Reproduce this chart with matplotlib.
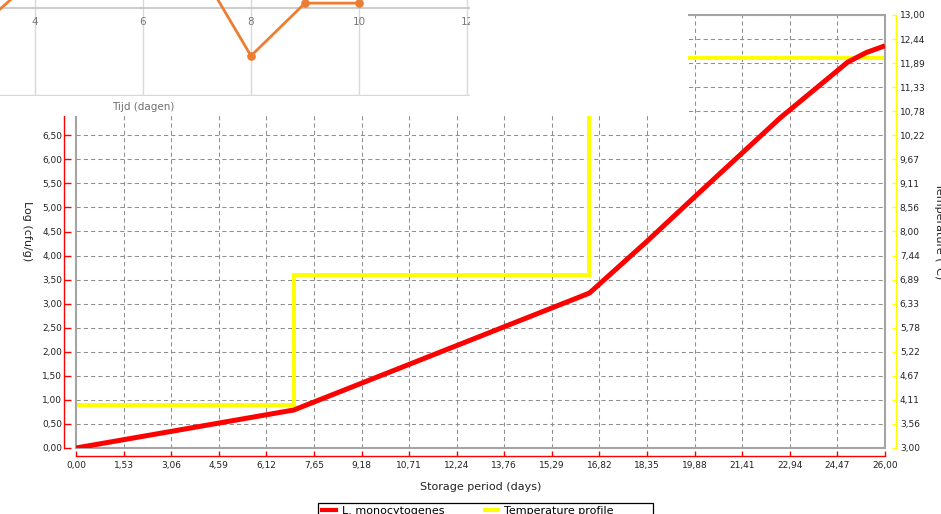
import numpy as np
import matplotlib
matplotlib.use("Agg")
import matplotlib.pyplot as plt
from matplotlib.patches import Rectangle
from matplotlib.lines import Line2D
import matplotlib.transforms as mtransforms

plt.rcParams['font.family'] = ['DejaVu Sans']

# ---------------- data ----------------
days = [0, 7, 16.5, 18.34, 19.95, 22.63, 23.92, 24.8, 25.4, 26]
log_counts = [0, 0.79, 3.22, 4.29, 5.26, 6.86, 7.55, 8.02, 8.22, 8.36]

temp_days = [0, 7, 16.5, 26]
temp_c = [4, 7, 12, 12]

x_tick_labels = ["0,00", "1,53", "3,06", "4,59", "6,12", "7,65", "9,18", "10,71", "12,24",
                 "13,76", "15,29", "16,82", "18,35", "19,88", "21,41", "22,94", "24,47", "26,00"]
left_tick_labels = ["0,00", "0,50", "1,00", "1,50", "2,00", "2,50", "3,00", "3,50", "4,00",
                    "4,50", "5,00", "5,50", "6,00", "6,50", "7,00", "7,50", "8,00", "8,50", "9,00"]
right_tick_labels = ["3,00", "3,56", "4,11", "4,67", "5,22", "5,78", "6,33", "6,89", "7,44", "8,00",
                     "8,56", "9,11", "9,67", "10,22", "10,78", "11,33", "11,89", "12,44", "13,00"]

# overlaid fragment of another chart (Excel screenshot)
excel_days = [3, 4, 7, 8, 9, 10]
excel_values = [-0.41, 0.68, 1.0, -1.1, 0.11, 0.11]
excel_ticks = [4, 6, 8, 10, 12]

W, H = 941, 514
fig = plt.figure(figsize=(W / 100, H / 100), dpi=100)
fig.patch.set_facecolor('white')

def px(x0, y0, x1, y1):
    return [x0 / W, 1 - y1 / H, (x1 - x0) / W, (y1 - y0) / H]

ax = fig.add_axes(px(76, 15, 885, 448))
ax2 = ax.twinx()
ax.set_zorder(2)
ax.patch.set_visible(False)
ax2.set_zorder(1)
ax2.patch.set_visible(True)
ax2.patch.set_facecolor('white')

ax.set_xlim(0, 26)
ax.set_ylim(0, 9)
ax2.set_ylim(3, 13)

xt = np.linspace(0, 26, len(x_tick_labels))
yl = np.linspace(0, 9, len(left_tick_labels))
yr = np.linspace(3, 13, len(right_tick_labels))
ax.set_xticks(xt)
ax.set_xticklabels(x_tick_labels)
ax.set_yticks(yl)
ax.set_yticklabels(left_tick_labels)
ax2.set_yticks(yr)
ax2.set_yticklabels(right_tick_labels)

# grid on the lower axes
ax2.xaxis.set_visible(True)
ax2.set_xticks(xt)
ax2.tick_params(axis='x', which='both', bottom=False, top=False, labelbottom=False, labeltop=False)
ax2.grid(True, color='#8f8f8f', linestyle=(0, (4, 3)), linewidth=0.75)
ax.grid(False)

# spines
for s in ['top', 'right']:
    ax.spines[s].set_visible(False)
for s in ['top', 'left', 'bottom']:
    ax2.spines[s].set_visible(False)
ax.spines['left'].set_position(('outward', 8.6))
ax.spines['left'].set_color('red')
ax.spines['bottom'].set_position(('outward', 6.0))
ax.spines['bottom'].set_color('red')
ax2.spines['right'].set_position(('outward', 7.9))
ax2.spines['right'].set_color('#ffff00')
for sp in [ax.spines['left'], ax.spines['bottom'], ax2.spines['right']]:
    sp.set_linewidth(1.0)

ax.tick_params(axis='y', direction='in', length=5, width=1, color='red', labelsize=6.5, pad=1.5, labelcolor='#222222')
ax.tick_params(axis='x', direction='in', length=3.5, width=1, color='red', labelsize=6.5, pad=3.5, labelcolor='#222222')
ax2.tick_params(axis='y', direction='in', length=3, width=1, color='#ffff00', labelsize=6.5, pad=2.8, labelcolor='#222222')

# frame of the plot area
ax2.add_patch(Rectangle((0, 0), 1, 1, transform=ax2.transAxes, fill=False,
                        edgecolor='#a4a4a4', linewidth=1.5, zorder=2.5, clip_on=False))

# series
ax2.plot(temp_days, temp_c, drawstyle='steps-post', color='#ffff00', linewidth=2.9,
         solid_joinstyle='miter', zorder=2)
ax.plot(days, log_counts, color='#ff0000', linewidth=3.6, solid_capstyle='butt',
        solid_joinstyle='round', zorder=3)

# labels
ax.set_xlabel("Storage period (days)", fontsize=8, color='#222222')
ax.xaxis.set_label_coords(0.5, -(487 - 448) / 433)
ax.xaxis.label.set_va('center')
ax.set_ylabel("Log (cfu/g)", fontsize=8, rotation=270, color='#222222')
ax.yaxis.set_label_coords((27 - 76) / 809, 0.5)
ax.yaxis.label.set_va('center')
ax.yaxis.label.set_ha('center')
ax2.set_ylabel("Temperature (°C)", fontsize=8, rotation=270, color='#222222')
ax2.yaxis.set_label_coords((939 - 76) / 809, 0.5)
ax2.yaxis.label.set_va('center')
ax2.yaxis.label.set_ha('center')

# legend
handles = [Line2D([], [], color='#ff0000', linewidth=3.0),
           Line2D([], [], color='#ffff00', linewidth=3.0)]
leg = fig.legend(handles, ["L. monocytogenes", "Temperature profile"], loc='upper left',
                 bbox_to_anchor=(322 / W, 1 - 506 / H), ncol=2, frameon=False,
                 borderpad=0, borderaxespad=0, handlelength=1.25, handletextpad=0.55,
                 columnspacing=3.6, fontsize=8)
fig.add_artist(Rectangle((318 / W, -0.05), 335 / W, (H - 503) / H + 0.05,
                         transform=fig.transFigure, fill=False, edgecolor='black',
                         linewidth=0.9, zorder=6))

# white cover over the top-left part
fig.add_artist(Rectangle((0, 1 - 116 / H), 688 / W, 116 / H, transform=fig.transFigure,
                         facecolor='white', edgecolor='none', zorder=10))

# overlaid Excel chart fragment
axe = fig.add_axes(px(0, 0, 470, 96))
axe.set_zorder(20)
axe.set_xlim(4 - 35 / 54, 12 + 3 / 54)
axe.set_ylim(-2.02, 0.182)
for s in axe.spines.values():
    s.set_visible(False)
axe.set_xticks(excel_ticks)
axe.set_yticks([-2])
axe.tick_params(length=0, labelbottom=False, labelleft=False)
axe.grid(True, color='#d9d9d9', linewidth=1.0)
axe.axhline(0, color='#c4c4c4', linewidth=1.2, zorder=1.8)
axe.plot(excel_days, excel_values, color='#ed7d31', linewidth=2.0, marker='o',
         markersize=5.2, zorder=3)
trans = mtransforms.blended_transform_factory(axe.transData, axe.transAxes)
for t in excel_ticks:
    axe.text(t, 1 - 22 / 96, str(t), transform=trans, ha='center', va='center',
             fontsize=7.5, color='#7a7a7a', clip_on=True)
fig.text(143 / W, 1 - 107 / H, "Tijd (dagen)", ha='center', va='center', fontsize=7.5,
         color='#6f6f6f', zorder=30)

fig.savefig("out.png", dpi=100)
